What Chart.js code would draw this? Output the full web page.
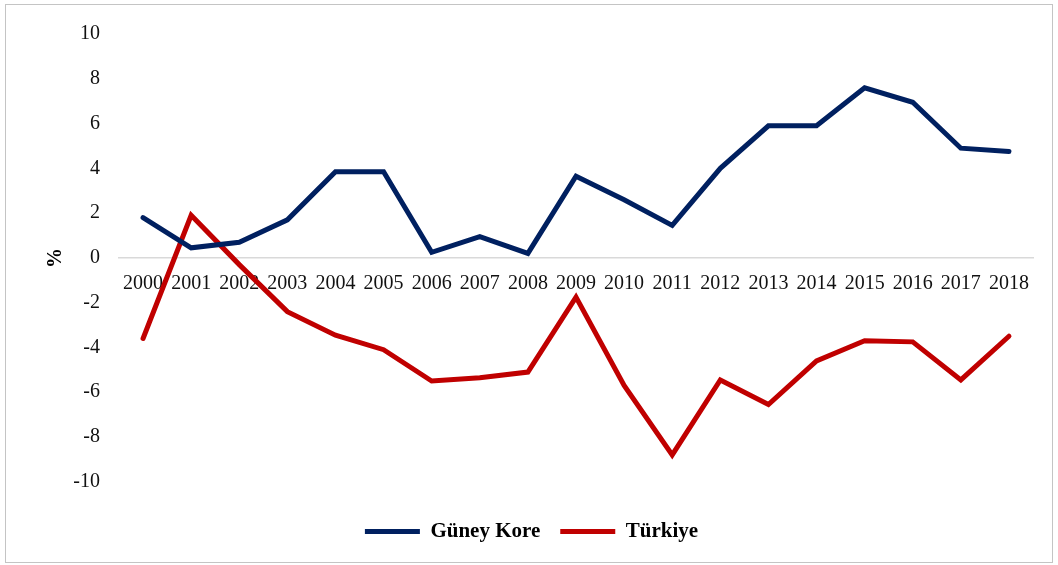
<!DOCTYPE html>
<html>
<head>
<meta charset="utf-8">
<script src="https://cdn.jsdelivr.net/npm/chart.js@4.4.1/dist/chart.umd.min.js"></script>
<style>
  html, body { margin: 0; padding: 0; background: #fff; }
  #wrap { position: relative; width: 1058px; height: 565px; }
  #frame { position: absolute; left: 5px; top: 4px; width: 1046px; height: 557px; border: 1.5px solid #c4c4c4; pointer-events: none; }
  canvas { position: absolute; left: 0; top: 0; }
</style>
</head>
<body>
<div id="wrap">
  <canvas id="c" width="1058" height="565"></canvas>
  <div id="frame"></div>
</div>
<script>
const years = ['2000','2001','2002','2003','2004','2005','2006','2007','2008','2009','2010','2011','2012','2013','2014','2015','2016','2017','2018'];
const guneyKore = [1.8, 0.45, 0.7, 1.7, 3.85, 3.85, 0.25, 0.95, 0.2, 3.65, 2.6, 1.45, 4.0, 5.9, 5.9, 7.6, 6.95, 4.9, 4.75];
const turkiye = [-3.6, 1.9, -0.3, -2.4, -3.45, -4.1, -5.5, -5.35, -5.1, -1.75, -5.7, -8.8, -5.45, -6.55, -4.6, -3.7, -3.75, -5.45, -3.5];
const yTicks = { min: -10, max: 10, step: 2 };

const serif = 'Liberation Serif, "Times New Roman", serif';

new Chart(document.getElementById('c'), {
  type: 'line',
  data: {
    labels: years,
    datasets: [
      { label: 'Güney Kore', data: guneyKore, borderColor: '#002060', backgroundColor: '#002060', borderWidth: 5, pointRadius: 0, tension: 0, borderCapStyle: 'round', borderJoinStyle: 'miter' },
      { label: 'Türkiye', data: turkiye, borderColor: '#C00000', backgroundColor: '#C00000', borderWidth: 5, pointRadius: 0, tension: 0, borderCapStyle: 'round', borderJoinStyle: 'miter' }
    ]
  },
  options: {
    responsive: false,
    animation: false,
    layout: { padding: { top: 34, left: 30, right: 25, bottom: 13 } },
    plugins: {
      tooltip: { enabled: false },
      legend: {
        position: 'bottom',
        title: { display: true, text: '', font: { size: 1 }, padding: { top: 0, bottom: 18 } },
        labels: {
          font: { family: serif, size: 21, weight: 'bold' },
          color: '#000',
          boxWidth: 55,
          boxHeight: 5,
          padding: 20,
          generateLabels: (chart) => {
            const items = Chart.defaults.plugins.legend.labels.generateLabels(chart);
            items.forEach(it => { it.lineWidth = 0; it.strokeStyle = 'rgba(0,0,0,0)'; });
            return items;
          }
        }
      }
    },
    scales: {
      x: {
        position: { y: 0 },
        offset: true,
        grid: { display: false },
        border: { display: true, color: '#d9d9d9', width: 1.5 },
        ticks: { font: { family: serif, size: 20 }, color: '#111', padding: 6, autoSkip: false, maxRotation: 0 }
      },
      y: {
        min: yTicks.min, max: yTicks.max,
        grid: { display: false },
        border: { display: false },
        ticks: { stepSize: yTicks.step, font: { family: serif, size: 20 }, color: '#111', padding: 11 },
        title: { display: true, text: '%', font: { family: serif, size: 20, weight: 'bold' }, color: '#000', padding: { top: 14, bottom: 0 } },
        afterFit: (s) => { s.width = 89; }
      }
    }
  }
});
</script>
</body>
</html>
